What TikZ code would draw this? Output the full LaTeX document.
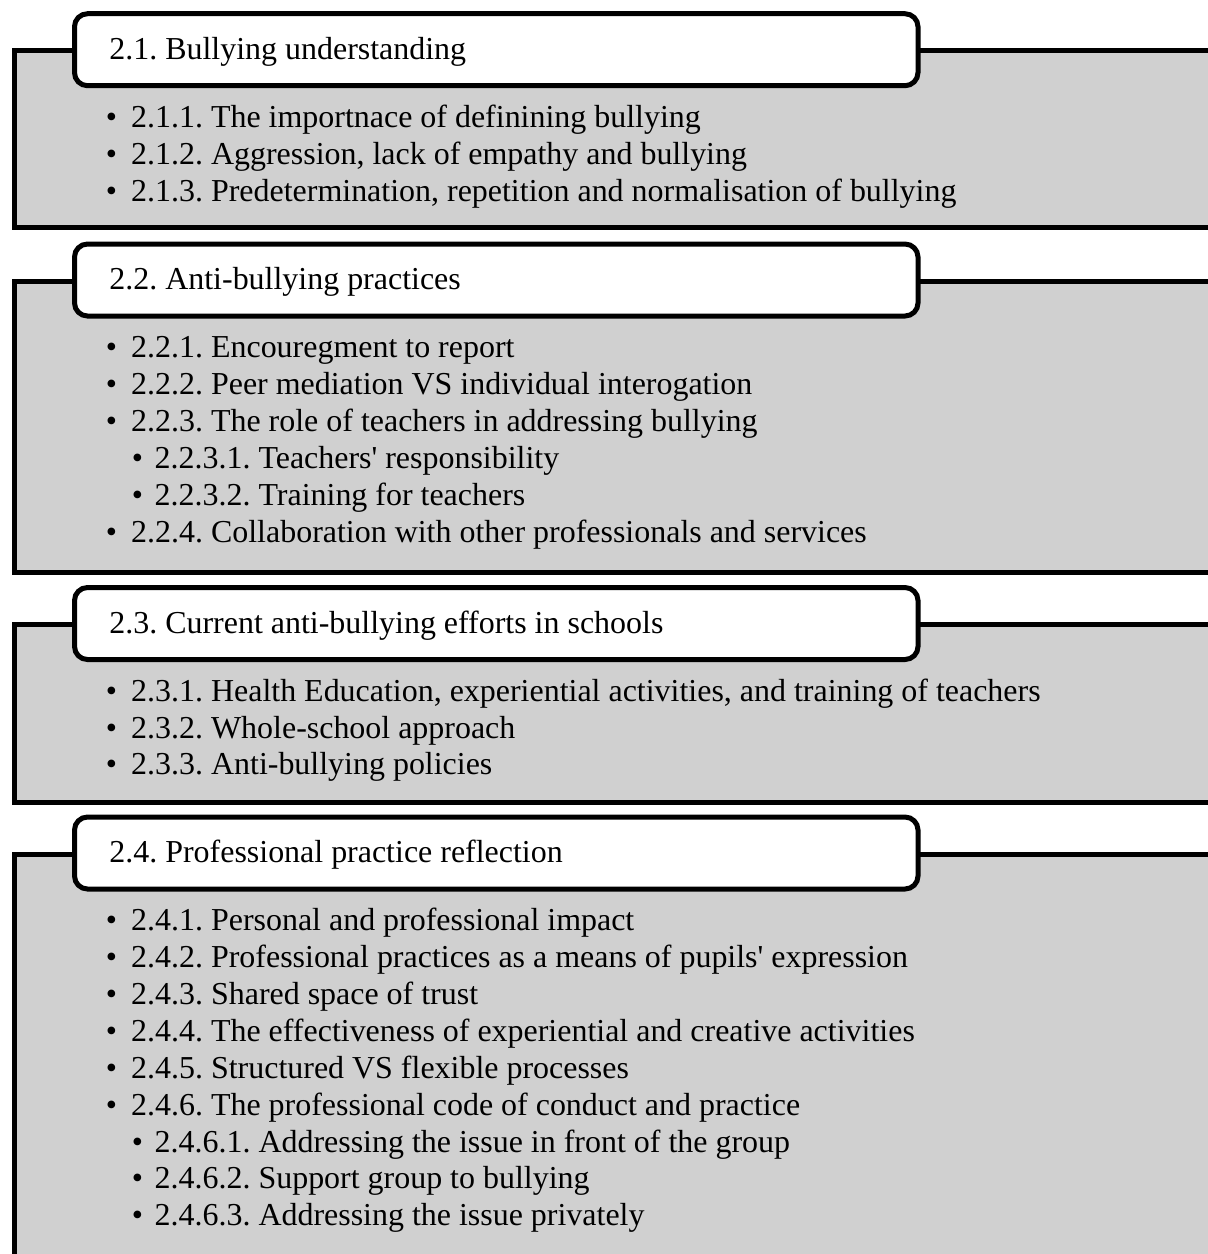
\documentclass[tikz,border=0pt]{standalone}
\usepackage{fontspec}
\setmainfont{Liberation Serif}[Ligatures=TeXOff]
\definecolor{panelgray}{RGB}{208,208,208}
\tikzset{
  panel/.style={draw=black, fill=panelgray, line width=5pt, inner sep=0pt,
    minimum width=1216pt},
  headbox/.style={draw=black, fill=white, line width=5pt, rounded corners=13pt,
    inner sep=0pt, minimum width=843.5pt, minimum height=72pt},
  lbl/.style={anchor=base west, inner sep=0pt, font=\fontsize{31.95}{36}\selectfont\frenchspacing},
  dot/.style={anchor=base, inner sep=0pt, font=\fontsize{31.95}{36}\selectfont},
}
% bullet entry: name, bullet x, text x, baseline y, text
\newcommand\entry[5]{%
  \node[dot] (#1b) at (#2,#4) {•};
  \node[lbl] (#1) at (#3,#4) {#5};}
\newcommand\lvlone[3]{\entry{#1}{111.5}{131}{#2}{#3}}
\newcommand\lvltwo[3]{\entry{#1}{137.5}{154.5}{#2}{#3}}
\begin{document}
\begin{tikzpicture}[x=1pt,y=-1pt]
\useasboundingbox (0,0) rectangle (1208,1254);
\clip (0,0) rectangle (1208,1254);

% ---- 2.1 ----
\node[panel, minimum height=176.3pt] (p1) at (622,138.85) {};
\node[headbox] (h1) at (496.25,49.7) {};
\node[lbl] (t1) at (109.2,59.3) {2.1. Bullying understanding};
\lvlone{a1}{127.3}{2.1.1. The importnace of definining bullying}
\lvlone{a2}{164.2}{2.1.2. Aggression, lack of empathy and bullying}
\lvlone{a3}{201.1}{2.1.3. Predetermination, repetition and normalisation of bullying}

% ---- 2.2 ----
\node[panel, minimum height=291pt] (p2) at (622,426.5) {};
\node[headbox] (h2) at (496.25,280) {};
\node[lbl] (t2) at (109.2,289.6) {2.2. Anti-bullying practices};
\lvlone{b1}{357.6}{2.2.1. Encouregment to report}
\lvlone{b2}{394.5}{2.2.2. Peer mediation VS individual interogation}
\lvlone{b3}{431.4}{2.2.3. The role of teachers in addressing bullying}
\lvltwo{b4}{468.3}{2.2.3.1. Teachers' responsibility}
\lvltwo{b5}{505.2}{2.2.3.2. Training for teachers}
\lvlone{b6}{542.1}{2.2.4. Collaboration with other professionals and services}

% ---- 2.3 ----
\node[panel, minimum height=177.5pt] (p3) at (622,713.25) {};
\node[headbox] (h3) at (496.25,623.5) {};
\node[lbl] (t3) at (109.2,633.1) {2.3. Current anti-bullying efforts in schools};
\lvlone{c1}{701.1}{2.3.1. Health Education, experiential activities, and training of teachers}
\lvlone{c2}{738}{2.3.2. Whole-school approach}
\lvlone{c3}{774.9}{2.3.3. Anti-bullying policies}

% ---- 2.4 ----
\node[panel, minimum height=440pt] (p4) at (622,1074) {};
\node[headbox] (h4) at (496.25,853) {};
\node[lbl] (t4) at (109.2,862.6) {2.4. Professional practice reflection};
\lvlone{d1}{930.6}{2.4.1. Personal and professional impact}
\lvlone{d2}{967.5}{2.4.2. Professional practices as a means of pupils' expression}
\lvlone{d3}{1004.4}{2.4.3. Shared space of trust}
\lvlone{d4}{1041.3}{2.4.4. The effectiveness of experiential and creative activities}
\lvlone{d5}{1078.2}{2.4.5. Structured VS flexible processes}
\lvlone{d6}{1115.1}{2.4.6. The professional code of conduct and practice}
\lvltwo{d7}{1152}{2.4.6.1. Addressing the issue in front of the group}
\lvltwo{d8}{1188.9}{2.4.6.2. Support group to bullying}
\lvltwo{d9}{1225.8}{2.4.6.3. Addressing the issue privately}
\end{tikzpicture}
\end{document}
